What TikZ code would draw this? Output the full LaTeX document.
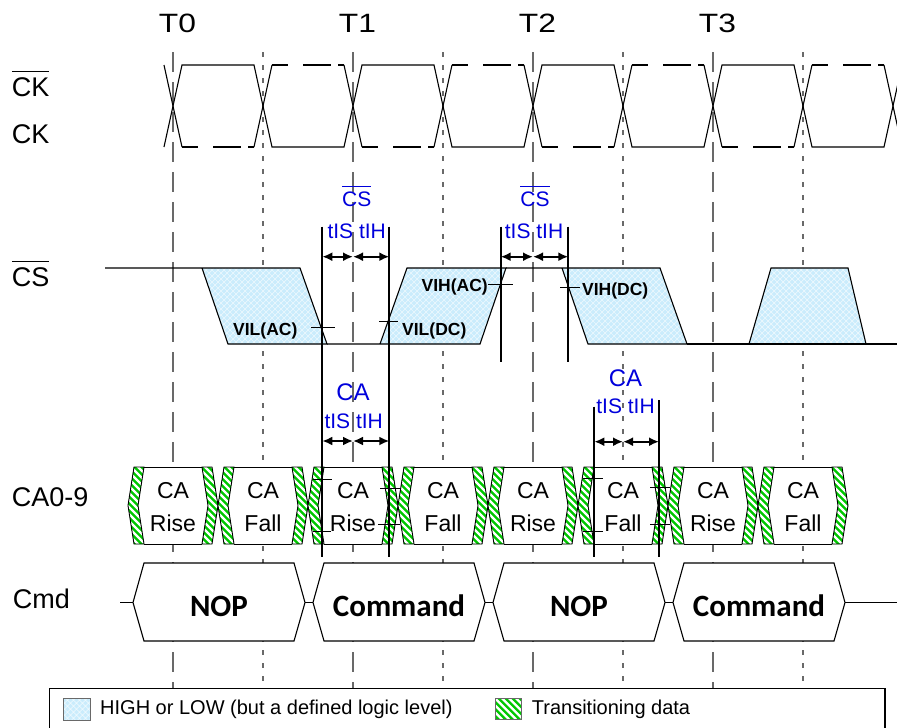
\documentclass[tikz,border=0pt]{standalone}
\usepackage{fontspec}
\setmainfont{Liberation Sans}
\newfontfamily\calibfont{Carlito}
\usetikzlibrary{arrows.meta}
\definecolor{csblue}{RGB}{202,236,252}
\definecolor{hatchgreen}{RGB}{0,200,0}
\definecolor{lblblue}{RGB}{0,0,220}
\definecolor{gridgray}{RGB}{105,105,105}
\newlength\ovlw
\newcommand\ovl[1]{\settowidth\ovlw{#1}\rlap{\rule[0.9em]{\ovlw}{0.055em}}#1}
% crosshatch (white) for the blue areas: xmin, ytop, ybot
\newcommand\bhatch[3]{\foreach \s in {0,6,...,216} {%
  \draw[hatchw] ({#1-(#3-#2)+\s},#2) -- ++({#3-#2},{#3-#2});
  \draw[hatchw] ({#1+\s},#2) -- ++({-(#3-#2)},{#3-#2});}}
% white stripes for green areas: xmin, ytop, ybot
\newcommand\gstripes[3]{\foreach \s in {0,7,...,140} {%
  \draw[stripew] ({#1-(#3-#2)+\s},#2) -- ++({#3-#2},{#3-#2});}}
\tikzset{
  hatchw/.style={white, line width=0.7pt, opacity=0.6},
  stripew/.style={white, line width=2.4pt},
  sig/.style={black, line width=1.1pt},
  thinline/.style={black, line width=0.9pt},
  clk/.style={black, line width=1.1pt},
  clkd/.style={black, line width=1.1pt, dash pattern=on 16pt off 15pt on 28pt off 7pt},
  tgrid/.style={draw=gridgray, line width=1.2pt, dash pattern=on 20pt off 10pt},
  hgrid/.style={draw=gridgray, line width=1.2pt, dash pattern=on 5pt off 8pt},
  rowlbl/.style={font=\fontsize{27}{30}\selectfont, anchor=base west, inner sep=0pt},
  tlbl/.style={font=\fontsize{26.5}{30}\selectfont, anchor=base, inner sep=0pt},
  blbl/.style={font=\fontsize{21}{24}\selectfont, text=lblblue, anchor=base, inner sep=0pt},
  calbl/.style={font=\fontsize{24}{26}\selectfont, text=lblblue, anchor=base, inner sep=0pt},
  vlbl/.style={font=\bfseries\fontsize{17.5}{20}\selectfont, inner sep=0pt},
  catext/.style={font=\fontsize{23}{26}\selectfont, anchor=base, inner sep=0pt},
  cmdtext/.style={font=\calibfont\bfseries\fontsize{31}{34}\selectfont, anchor=base, inner sep=0pt},
  legtext/.style={font=\fontsize{20}{22}\selectfont, anchor=base west, inner sep=0pt},
  tline/.style={black, line width=2pt},
  tarrow/.style={black, line width=2pt, {Latex[length=10pt,width=9pt]}-{Latex[length=10pt,width=9pt]}},
  tick/.style={black, line width=0.9pt}
}
\begin{document}
\begin{tikzpicture}[x=1pt,y=-1pt]
\useasboundingbox (0,0) rectangle (897,728);
\fill[white] (0,0) rectangle (897,728);

% ---------- grid lines ----------
\foreach \x in {173,353,533,713} \draw[tgrid] (\x,52) -- (\x,688);
\foreach \x in {263,443,623,803} \draw[hgrid] (\x,52) -- (\x,688);

% ---------- clocks ----------
\draw[clk] (164,147) \foreach \k in {0,180,360,540} { -- ({182+\k},65) -- ({254+\k},65) -- ({272+\k},147) -- ({344+\k},147) } -- (902,65);
\foreach \k in {0,180,360,540} {
  \draw[clk] ({164+\k},65) -- ({182+\k},147);
  \draw[clkd] ({182+\k},147) -- ({254+\k},147);
  \draw[clk] ({254+\k},147) -- ({272+\k},65);
  \draw[clkd] ({272+\k},65) -- ({344+\k},65);
}
\draw[clk] (884,65) -- (902,147);

% ---------- CS# ----------
\fill[csblue] (202,268) -- (300,268) -- (327,344) -- (228,344) -- cycle;
\begin{scope}\clip (202,268) -- (300,268) -- (327,344) -- (228,344) -- cycle; \bhatch{202}{268}{344}\end{scope}
\fill[csblue] (380,344) -- (407,268) -- (506,268) -- (480,344) -- cycle;
\begin{scope}\clip (380,344) -- (407,268) -- (506,268) -- (480,344) -- cycle; \bhatch{380}{268}{344}\end{scope}
\fill[csblue] (562,268) -- (660,268) -- (687,344) -- (588,344) -- cycle;
\begin{scope}\clip (562,268) -- (660,268) -- (687,344) -- (588,344) -- cycle; \bhatch{562}{268}{344}\end{scope}
\fill[csblue] (749,344) -- (771,268) -- (848,268) -- (866,344) -- cycle;
\begin{scope}\clip (749,344) -- (771,268) -- (848,268) -- (866,344) -- cycle; \bhatch{749}{268}{344}\end{scope}
\draw[sig] (105,268) -- (300,268) -- (327,344) -- (228,344) -- (202,268);
\draw[sig] (327,344) -- (480,344) -- (506,268) -- (407,268) -- (380,344);
\draw[sig] (506,268) -- (660,268) -- (687,344) -- (588,344) -- (562,268);
\draw[sig] (687,344) -- (897,344);
\draw[sig] (749,344) -- (771,268) -- (848,268) -- (866,344);

% ---------- CA0-9 ----------
\foreach \c/\t [count=\i] in {173/Rise,263/Fall,353/Rise,443/Fall,533/Rise,623/Fall,713/Rise,803/Fall} {
  \fill[white] ({\c-39},467) -- ({\c+39},467) -- ({\c+45},505.5) -- ({\c+39},544) -- ({\c-39},544) -- ({\c-45},505.5) -- cycle;
  \begin{scope}
    \clip ({\c-39},467) -- ({\c-29},467) -- ({\c-35},505.5) -- ({\c-29},544) -- ({\c-39},544) -- ({\c-45},505.5) -- cycle;
    \fill[hatchgreen] ({\c-47},465) rectangle ({\c-27},546);
    \gstripes{\c-47}{465}{546}
  \end{scope}
  \begin{scope}
    \clip ({\c+29},467) -- ({\c+39},467) -- ({\c+45},505.5) -- ({\c+39},544) -- ({\c+29},544) -- ({\c+35},505.5) -- cycle;
    \fill[hatchgreen] ({\c+27},465) rectangle ({\c+47},546);
    \gstripes{\c+27}{465}{546}
  \end{scope}
  \draw[thinline] ({\c-39},467) -- ({\c-29},467) -- ({\c-35},505.5) -- ({\c-29},544) -- ({\c-39},544) -- ({\c-45},505.5) -- cycle;
  \draw[thinline] ({\c+29},467) -- ({\c+39},467) -- ({\c+45},505.5) -- ({\c+39},544) -- ({\c+29},544) -- ({\c+35},505.5) -- cycle;
  \draw[thinline] ({\c-29},467) -- ({\c+29},467);
  \draw[thinline] ({\c-29},544) -- ({\c+29},544);
  \node[catext] (ca\i a) at (\c,498.5) {CA};
  \node[catext] (ca\i b) at (\c,531) {\t};
}

% ---------- Cmd ----------
\foreach \c/\t [count=\i] in {219/NOP,399/Command,579/NOP,759/Command} {
  \draw[sig, fill=white] ({\c-86},602.5) -- ({\c-75},563) -- ({\c+75},563) -- ({\c+86},602.5) -- ({\c+75},641) -- ({\c-75},641) -- cycle;
  \node[cmdtext] (cmd\i) at (\c,616.7) {\t};
}
\draw[sig] (120,602.5) -- (133,602.5);
\draw[sig] (305,602.5) -- (313,602.5);
\draw[sig] (485,602.5) -- (493,602.5);
\draw[sig] (665,602.5) -- (673,602.5);
\draw[sig] (845,602.5) -- (897,602.5);

% ---------- legend ----------
\draw[black, line width=1.2pt, fill=white] (49.3,688.3) rectangle (885,745);
\fill[csblue] (63.3,698.3) rectangle (90.7,720);
\begin{scope}\clip (63.3,698.3) rectangle (90.7,720); \bhatch{63.3}{698.3}{720}\end{scope}
\draw[gridgray, line width=0.8pt] (63.3,698.3) rectangle (90.7,720);
\begin{scope}\clip (495,698.3) rectangle (521.7,719.3);
  \fill[hatchgreen] (495,698.3) rectangle (521.7,719.3);
  \gstripes{495}{698.3}{719.3}
\end{scope}
\draw[gridgray, line width=0.8pt] (495,698.3) rectangle (521.7,719.3);
\node[legtext] (leg1) at (100,714) {HIGH or LOW (but a defined logic level)};
\node[legtext] (leg2) at (531.7,714.3) {Transitioning data};

% ---------- timing lines and arrows ----------
\coordinate (a1) at (322.3,226.7); \coordinate (a1b) at (322.3,556.7);
\coordinate (b1) at (389.3,226.7); \coordinate (b1b) at (389.3,556.7);
\coordinate (a2) at (500.7,226.7); \coordinate (a2b) at (500.7,361.7);
\coordinate (b2) at (568.3,226.7); \coordinate (b2b) at (568.3,361.7);
\coordinate (a3) at (594.3,406.7); \coordinate (a3b) at (594.3,556.7);
\coordinate (b3) at (659,400);     \coordinate (b3b) at (659,556.7);
\draw[tline] (a1) -- (a1b);
\draw[tline] (b1) -- (b1b);
\draw[tline] (a2) -- (a2b);
\draw[tline] (b2) -- (b2b);
\draw[tline] (a3) -- (a3b);
\draw[tline] (b3) -- (b3b);
\coordinate (m1) at (353,256.7);
\draw[tarrow] (322.3,256.7) -- (m1);
\draw[tarrow] (m1) -- (389.3,256.7);
\coordinate (m2) at (533,256.7);
\draw[tarrow] (500.7,256.7) -- (m2);
\draw[tarrow] (m2) -- (568.3,256.7);
\coordinate (m3) at (353,441);
\draw[tarrow] (322.3,441) -- (m3);
\draw[tarrow] (m3) -- (389.3,441);
\coordinate (m4) at (623,441.7);
\draw[tarrow] (594.3,441.7) -- (m4);
\draw[tarrow] (m4) -- (659,441.7);

% ---------- ticks ----------
\draw[tick] (311,327.3) -- (335,327.3);
\draw[tick] (379,321.7) -- (398,321.7);
\draw[tick] (488,284.3) -- (513,284.3);
\draw[tick] (560,287.7) -- (580,287.7);
\draw[tick] (313.3,479) -- (332.3,479);
\draw[tick] (313.3,531) -- (331,531);
\draw[tick] (380,488.3) -- (400,488.3);
\draw[tick] (378,524.3) -- (400,524.3);
\draw[tick] (583.3,478.3) -- (603.3,478.3);
\draw[tick] (583.3,531) -- (603.3,531);
\draw[tick] (650,487.7) -- (670,487.7);
\draw[tick] (650,524.3) -- (670,524.3);

% ---------- labels ----------
\node[tlbl] (t0) at (177.5,32.3) {\scalebox{1.2}[1]{T0}};
\node[tlbl] (t1) at (357.5,32.3) {\scalebox{1.2}[1]{T1}};
\node[tlbl] (t2) at (537.5,32.3) {\scalebox{1.2}[1]{T2}};
\node[tlbl] (t3) at (717.5,32.3) {\scalebox{1.2}[1]{T3}};
\node[rowlbl] (ckb) at (11.7,96.7) {\ovl{CK}};
\node[rowlbl] (ck) at (11.7,143.3) {CK};
\node[rowlbl] (csb) at (11.7,286.7) {\ovl{CS}};
\node[rowlbl] (ca) at (11.7,506.7) {CA0-9};
\node[rowlbl] (cmd) at (12.7,608.3) {Cmd};

\node[blbl] (cs1) at (356.7,206) {\ovl{CS}};
\node[blbl] (cs1t) at (356.7,238.3) {tIS tIH};
\node[blbl] (cs2) at (535,206) {\ovl{CS}};
\node[blbl] (cs2t) at (534,238.3) {tIS tIH};
\node[calbl] (ca1) at (353,400.7) {CA};
\node[blbl] (ca1t) at (353.7,428.3) {tIS tIH};
\node[calbl] (ca2) at (625.5,386) {CA};
\node[blbl] (ca2t) at (625.5,413.3) {tIS tIH};

\node[vlbl, anchor=base west] (vilac) at (233,335) {VIL(AC)};
\node[vlbl, anchor=base west] (vildc) at (402,335) {VIL(DC)};
\node[vlbl, anchor=base east] (vihac) at (488,291) {VIH(AC)};
\node[vlbl, anchor=base west] (vihdc) at (582,295) {VIH(DC)};
\end{tikzpicture}
\end{document}
